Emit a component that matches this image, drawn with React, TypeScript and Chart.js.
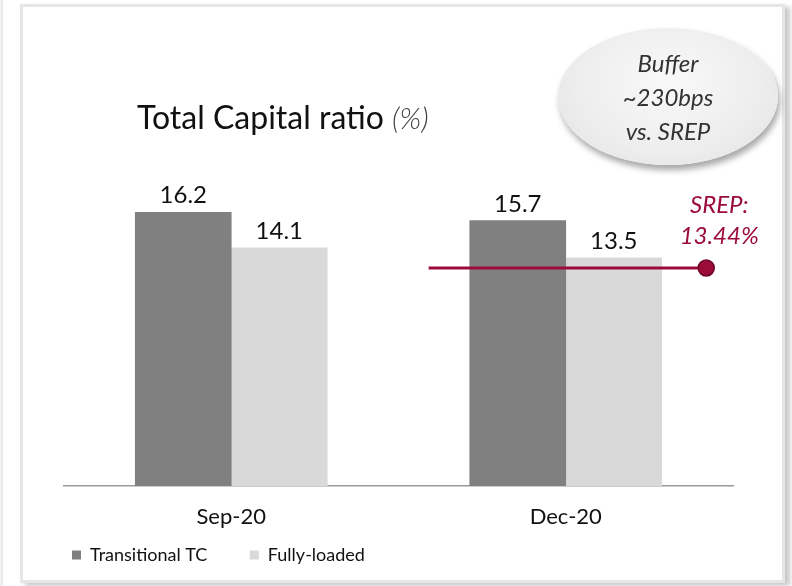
import React, { useEffect, useRef } from "react";
import { Chart, registerables } from "chart.js";

Chart.register(...registerables);

const categories = ["Sep-20", "Dec-20"];
const seriesNames = ["Transitional TC", "Fully-loaded"];
const transitionalTC = [16.2, 15.7];
const fullyLoaded = [14.1, 13.5];
const srepLineLevel = [12.9, 12.9];
const srepLineX = [0.59, 1.42];
const srepLabel = ["SREP:", "13.44%"];
const bubbleLines = ["Buffer", "~230bps", "vs. SREP"];
const titleMain = "Total Capital ratio";
const titleUnit = "(%)";

const DARK = "#808080";
const LIGHT = "#d9d9d9";
const MAROON = "#9c0c3b";
const FONT = "Lato, 'Open Sans', sans-serif";

const labelsPlugin = {
  id: "customLabels",
  afterDatasetsDraw(chart: any) {
    const ctx = chart.ctx;
    ctx.save();
    // bar value labels
    chart.data.datasets.forEach((ds: any, di: number) => {
      if (ds.type === "line") return;
      const meta = chart.getDatasetMeta(di);
      meta.data.forEach((el: any, i: number) => {
        ctx.font = `24px ${FONT}`;
        ctx.fillStyle = "#111";
        ctx.textAlign = "center";
        ctx.textBaseline = "alphabetic";
        ctx.fillText(ds.data[i].toFixed(1), el.x, el.y - 9);
      });
    });
    // SREP label near the line end point
    const li = chart.data.datasets.findIndex((d: any) => d.type === "line");
    if (li >= 0) {
      const pts = chart.getDatasetMeta(li).data;
      const end = pts[pts.length - 1];
      ctx.font = `italic 24px ${FONT}`;
      ctx.fillStyle = MAROON;
      ctx.textAlign = "center";
      ctx.fillText(srepLabel[0], end.x + 13, end.y - 55);
      ctx.fillText(srepLabel[1], end.x + 13, end.y - 24);
    }
    // title
    ctx.textAlign = "left";
    ctx.fillStyle = "#111";
    ctx.font = `32px ${FONT}`;
    ctx.fillText(titleMain, 137, 129);
    const w = ctx.measureText(titleMain + " ").width;
    ctx.font = `italic 300 30px ${FONT}`;
    ctx.fillStyle = "#404040";
    ctx.fillText(titleUnit, 137 + w, 129);
    ctx.restore();
  },
};

export default function App() {
  const ref = useRef<HTMLCanvasElement>(null);
  useEffect(() => {
    if (!ref.current) return;
    const chart = new Chart(ref.current, {
      type: "bar",
      data: {
        labels: categories,
        datasets: [
          {
            type: "line",
            label: "SREP",
            xAxisID: "x2",
            data: srepLineX.map((x, i) => ({ x, y: srepLineLevel[i] })),
            borderColor: MAROON,
            borderWidth: 3,
            pointRadius: [0, 8],
            pointBackgroundColor: MAROON,
            pointBorderColor: "#6e0626",
            pointBorderWidth: 1.5,
            order: -1,
          } as any,
          {
            type: "bar",
            label: seriesNames[0],
            data: transitionalTC,
            backgroundColor: DARK,
            barThickness: 96,
          },
          {
            type: "bar",
            label: seriesNames[1],
            data: fullyLoaded,
            backgroundColor: LIGHT,
            barThickness: 96,
          },
        ],
      },
      options: {
        animation: false,
        responsive: false,
        layout: { padding: { left: 57.2, right: 59, top: 148, bottom: 12 } },
        scales: {
          x: {
            type: "category",
            grid: { display: false },
            border: { display: true, color: "#9a9a9a", width: 1.5 },
            ticks: { font: { family: FONT, size: 22 }, color: "#111", padding: 9.8 },
            afterFit: (s: any) => {
              s.height = 45.2;
            },
          },
          x2: {
            type: "linear",
            display: false,
            offset: false,
            min: -0.5,
            max: 1.5,
          },
          y: {
            min: 0,
            max: 20,
            display: true,
            grid: { display: false },
            border: { display: false },
            ticks: { display: false },
            afterFit: (s: any) => {
              s.width = 6.8;
            },
          },
        },
        plugins: {
          legend: {
            position: "bottom",
            align: "start",
            labels: {
              generateLabels: (c: any) => {
                const items = Chart.defaults.plugins.legend.labels
                  .generateLabels(c)
                  .filter((it: any) => it.text !== "SREP");
                if (items.length) items[0].text = items[0].text + "      ";
                return items;
              },
              boxWidth: 9,
              boxHeight: 9,
              padding: 14.8,
              color: "#111",
              font: { family: FONT, size: 18 },
            },
          },
          tooltip: { enabled: false },
        },
      },
      plugins: [labelsPlugin],
    });
    return () => chart.destroy();
  }, []);

  return (
    <div style={{ position: "fixed", left: 0, top: 0, width: 792, height: 586, background: "#fff", overflow: "hidden" }}>
      <div style={{ position: "absolute", left: 0, top: 0, width: 3, height: 586, background: "linear-gradient(to right, #f4f4f4, #e6e6e6)" }} />
      <div
        style={{
          position: "absolute",
          left: 20,
          top: 4,
          width: 759,
          height: 573,
          border: "3px solid #e6e6e6",
          boxShadow: "5px 3px 5px rgba(0,0,0,0.22)",
          background: "#fff",
        }}
      />
      <canvas ref={ref} width={792} height={586} style={{ position: "absolute", left: 0, top: 0 }} />
      <div
        style={{
          position: "absolute",
          left: 558,
          top: 28,
          width: 220,
          height: 137,
          borderRadius: "50%",
          background: "radial-gradient(ellipse at 50% 40%, #f9f9f9 0%, #ededed 60%, #e0e0e0 100%)",
          boxShadow: "2px 5px 6px rgba(0,0,0,0.35)",
          display: "flex",
          flexDirection: "column",
          alignItems: "center",
          justifyContent: "center",
          fontFamily: FONT,
          fontStyle: "italic",
          fontSize: 24,
          lineHeight: "34px",
          color: "#333",
        }}
      >
        {bubbleLines.map((t) => (
          <div key={t}>{t}</div>
        ))}
      </div>
    </div>
  );
}
